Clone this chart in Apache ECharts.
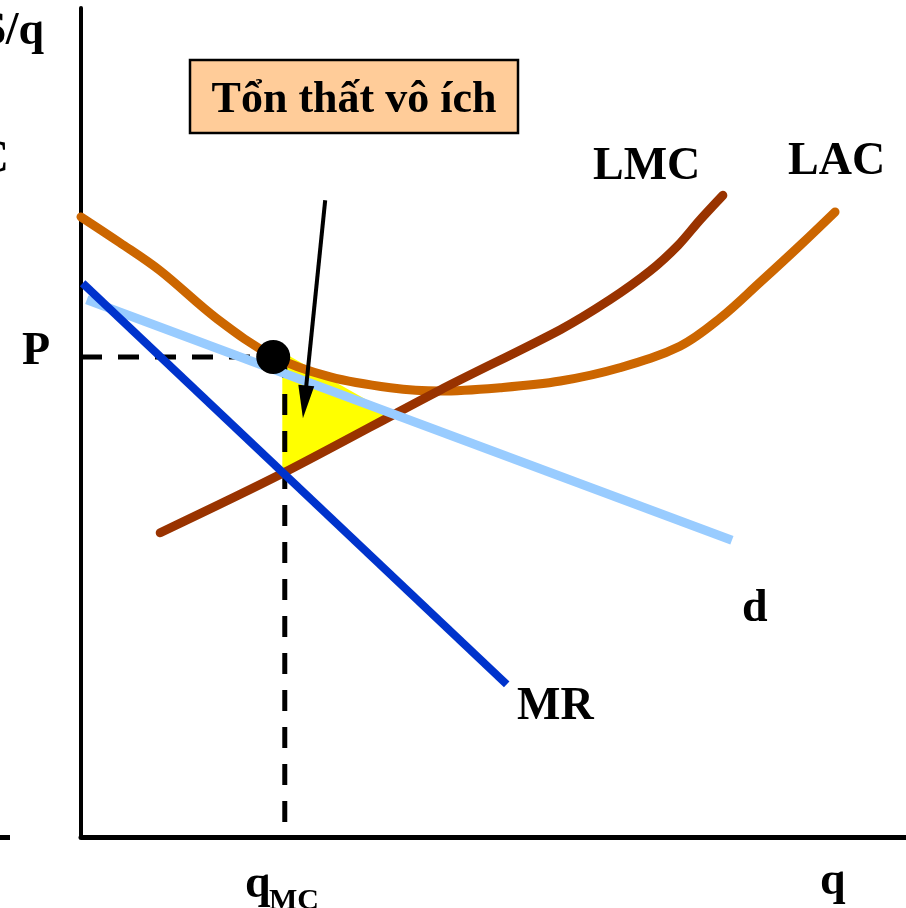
<!DOCTYPE html>
<html>
<head>
<meta charset="utf-8">
<script src="https://cdn.jsdelivr.net/npm/echarts@6/dist/echarts.min.js"></script>
<style>
html,body{margin:0;padding:0;background:#fff;}
#chart{width:906px;height:908px;}
</style>
</head>
<body>
<div id="chart"></div>
<script>
// ---- data (q on x axis, $/q on y axis) ----
const LAC_Q = [0.00, 0.47, 0.96, 1.65, 2.33, 3.02, 3.75, 4.35, 5.08, 5.81, 6.53, 7.26, 7.75, 8.23, 8.72, 9.14];
const LAC_P = [7.48, 7.17, 6.83, 6.25, 5.80, 5.55, 5.42, 5.38, 5.42, 5.50, 5.66, 5.92, 6.26, 6.69, 7.14, 7.54];
const LMC_Q = [0.96, 2.45, 4.35, 5.81, 6.41, 6.90, 7.24, 7.50, 7.78];
const LMC_P = [3.67, 4.39, 5.39, 6.12, 6.48, 6.83, 7.14, 7.44, 7.74];
const D_Q = [0.07, 7.89];
const D_P = [6.48, 3.58];
const MR_Q = [0.02, 5.16];
const MR_P = [6.68, 1.84];
const DWL_Q = [2.44, 2.44, 3.77];
const DWL_P = [5.85, 4.38, 5.10];
const EQ_Q = [2.33];
const EQ_P = [5.79];
const Q_MC = 2.47;
const ARROW_Q = [2.96, 2.69];
const ARROW_P = [7.68, 5.05];
const AXIS_LABELS = ['$/q', 'q', 'P', 'q', 'MC', 'C'];
const CURVE_LABELS = ['LMC', 'LAC', 'd', 'MR'];
const BOX_TEXT = 'Tổn thất vô ích';

const zip = (a, b) => a.map((v, i) => [v, b[i]]);
const FONT = 'bold 46px "Liberation Serif", "Times New Roman", serif';

const chart = echarts.init(document.getElementById('chart'));
const option = {
  animation: false,
  backgroundColor: '#fff',
  grid: { left: 81, right: 0, top: 8, bottom: 71 },
  xAxis: {
    type: 'value', min: 0, max: 10,
    axisLine: { show: true, onZero: false, lineStyle: { color: '#000', width: 5 } },
    axisTick: { show: false }, axisLabel: { show: false }, splitLine: { show: false }
  },
  yAxis: {
    type: 'value', min: 0, max: 10,
    axisLine: { show: true, onZero: false, lineStyle: { color: '#000', width: 4 } },
    axisTick: { show: false }, axisLabel: { show: false }, splitLine: { show: false }
  },
  series: [
    {
      type: 'custom', z: 1,
      data: zip(DWL_Q, DWL_P),
      renderItem: function (params, api) {
        if (params.dataIndex !== 0) return;
        const pts = DWL_Q.map((q, i) => api.coord([q, DWL_P[i]]));
        return { type: 'polygon', shape: { points: pts }, style: { fill: '#FFFF00' } };
      }
    },
    {
      type: 'line', z: 2, symbol: 'none',
      data: [[0, EQ_P[0]], [EQ_Q[0], EQ_P[0]]],
      lineStyle: { color: '#000', width: 5, type: [21, 16] }
    },
    {
      type: 'line', z: 2, symbol: 'none',
      data: [[Q_MC, EQ_P[0]], [Q_MC, 0]],
      lineStyle: { color: '#000', width: 5, type: [21, 16] }
    },
    {
      name: 'LAC', type: 'line', z: 3, symbol: 'none', smooth: 0.35,
      data: zip(LAC_Q, LAC_P),
      lineStyle: { color: '#CC6600', width: 9, cap: 'round', join: 'round' }
    },
    {
      name: 'LMC', type: 'line', z: 4, symbol: 'none', smooth: 0.3,
      data: zip(LMC_Q, LMC_P),
      lineStyle: { color: '#993300', width: 9, cap: 'round', join: 'round' }
    },
    {
      name: 'd', type: 'line', z: 5, symbol: 'none',
      data: zip(D_Q, D_P),
      lineStyle: { color: '#99CCFF', width: 9 }
    },
    {
      name: 'MR', type: 'line', z: 6, symbol: 'none',
      data: zip(MR_Q, MR_P),
      lineStyle: { color: '#0033CC', width: 8 }
    },
    {
      type: 'scatter', z: 7, symbol: 'circle', symbolSize: 34,
      data: zip(EQ_Q, EQ_P),
      itemStyle: { color: '#000', opacity: 1 }
    },
    {
      type: 'custom', z: 8,
      data: [zip(ARROW_Q, ARROW_P)[0]],
      renderItem: function (params, api) {
        const a = api.coord([ARROW_Q[0], ARROW_P[0]]);
        const b = api.coord([ARROW_Q[1], ARROW_P[1]]);
        const dx = b[0] - a[0], dy = b[1] - a[1];
        const len = Math.sqrt(dx * dx + dy * dy);
        const ux = dx / len, uy = dy / len;
        const L = 33, W = 8;
        const bx = b[0] - ux * L, by = b[1] - uy * L;
        return {
          type: 'group',
          children: [
            { type: 'line', shape: { x1: a[0], y1: a[1], x2: bx + ux * 2, y2: by + uy * 2 }, style: { stroke: '#000', lineWidth: 4 } },
            { type: 'polygon', shape: { points: [b, [bx - uy * W, by + ux * W], [bx + uy * W, by - ux * W]] }, style: { fill: '#000' } }
          ]
        };
      }
    }
  ],
  graphic: [
    { type: 'rect', shape: { x: 190, y: 60, width: 328, height: 73 }, style: { fill: '#FFCC99', stroke: '#000', lineWidth: 2.5 }, z: 10 },
    { type: 'text', x: 354, y: 101, z: 11, style: { text: BOX_TEXT, font: 'bold 44px "Liberation Serif", "Times New Roman", serif', fill: '#000', align: 'center', verticalAlign: 'middle' } },
    { type: 'text', x: 44, y: 32, z: 11, style: { text: AXIS_LABELS[0], font: FONT, fill: '#000', align: 'right', verticalAlign: 'middle' } },
    { type: 'text', x: 820, y: 882, z: 11, style: { text: AXIS_LABELS[1], font: FONT, fill: '#000', align: 'left', verticalAlign: 'middle' } },
    { type: 'text', x: 22, y: 352, z: 11, style: { text: AXIS_LABELS[2], font: FONT, fill: '#000', align: 'left', verticalAlign: 'middle' } },
    { type: 'text', x: 245, y: 885, z: 11, style: { text: AXIS_LABELS[3], font: FONT, fill: '#000', align: 'left', verticalAlign: 'middle' } },
    { type: 'text', x: 269, y: 901, z: 11, style: { text: AXIS_LABELS[4], font: 'bold 30px "Liberation Serif", "Times New Roman", serif', fill: '#000', align: 'left', verticalAlign: 'middle' } },
    { type: 'text', x: 9, y: 160, z: 11, style: { text: AXIS_LABELS[5], font: FONT, fill: '#000', align: 'right', verticalAlign: 'middle' } },
    { type: 'text', x: 593, y: 167, z: 11, style: { text: CURVE_LABELS[0], font: FONT, fill: '#000', align: 'left', verticalAlign: 'middle' } },
    { type: 'text', x: 788, y: 162, z: 11, style: { text: CURVE_LABELS[1], font: FONT, fill: '#000', align: 'left', verticalAlign: 'middle' } },
    { type: 'text', x: 742, y: 609, z: 11, style: { text: CURVE_LABELS[2], font: FONT, fill: '#000', align: 'left', verticalAlign: 'middle' } },
    { type: 'text', x: 517, y: 707, z: 11, style: { text: CURVE_LABELS[3], font: FONT, fill: '#000', align: 'left', verticalAlign: 'middle' } },
    { type: 'rect', shape: { x: 0, y: 835, width: 10, height: 5 }, style: { fill: '#000' }, z: 11 }
  ]
};
chart.setOption(option);
</script>
</body>
</html>
